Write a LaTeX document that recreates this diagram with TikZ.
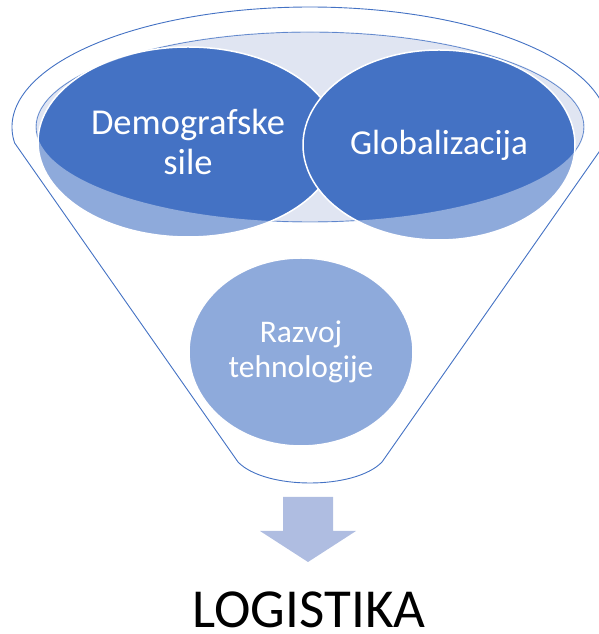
\documentclass[tikz,border=0pt]{standalone}
\usepackage{fontspec}
\setmainfont{Carlito}
\usetikzlibrary{shapes.geometric}
\definecolor{dblue}{RGB}{68,114,196}
\definecolor{rimfill}{RGB}{224,229,242}
\definecolor{arrowc}{RGB}{175,189,225}
\begin{document}
\begin{tikzpicture}[x=1pt,y=1pt,
  bubble/.style={ellipse, fill=dblue, draw=white, line width=1.5pt, inner sep=0pt, text=white, align=center},
  funnelline/.style={draw=dblue, line width=0.9pt}]
\useasboundingbox (0,0) rectangle (598,634);
% rim (back of the funnel)
\path[fill=rimfill, funnelline] (310,507) ellipse [x radius=274, y radius=95];
% the three items
\node[bubble, font=\fontsize{36.5}{40}\selectfont, minimum width=300pt, minimum height=190pt] (demo) at (188,492) {Demografske\\sile};
\node[bubble, font=\fontsize{35}{40}\selectfont, minimum width=272pt, minimum height=190pt] (glob) at (439,489) {Globalizacija};
\node[bubble, font=\fontsize{31.5}{35}\selectfont, minimum width=224pt, minimum height=188pt] (razv) at (301,282) {Razvoj\\tehnologije};
% translucent front of the funnel
\path[fill=white, fill opacity=0.4, even odd rule]
  (605.3,491) arc[start angle=-7.66, end angle=187.66, x radius=298, y radius=120]
  -- (238,172) .. controls (265,144) and (355,144) .. (382,172) -- cycle
  (310,507) ellipse [x radius=274, y radius=95];
% funnel outline
\path[funnelline]
  (605.3,491) arc[start angle=-7.66, end angle=187.66, x radius=298, y radius=120]
  -- (238,172) .. controls (265,144) and (355,144) .. (382,172) -- cycle;
% block arrow
\path[fill=arrowc] (283,137) -- (333,137) -- (333,103) -- (356,103) -- (308,72)
  -- (260,103) -- (283,103) -- cycle;
\node[font=\fontsize{55}{60}\selectfont, anchor=base, inner sep=0pt] (logi) at (309,6) {LOGISTIKA};
\end{tikzpicture}
\end{document}
